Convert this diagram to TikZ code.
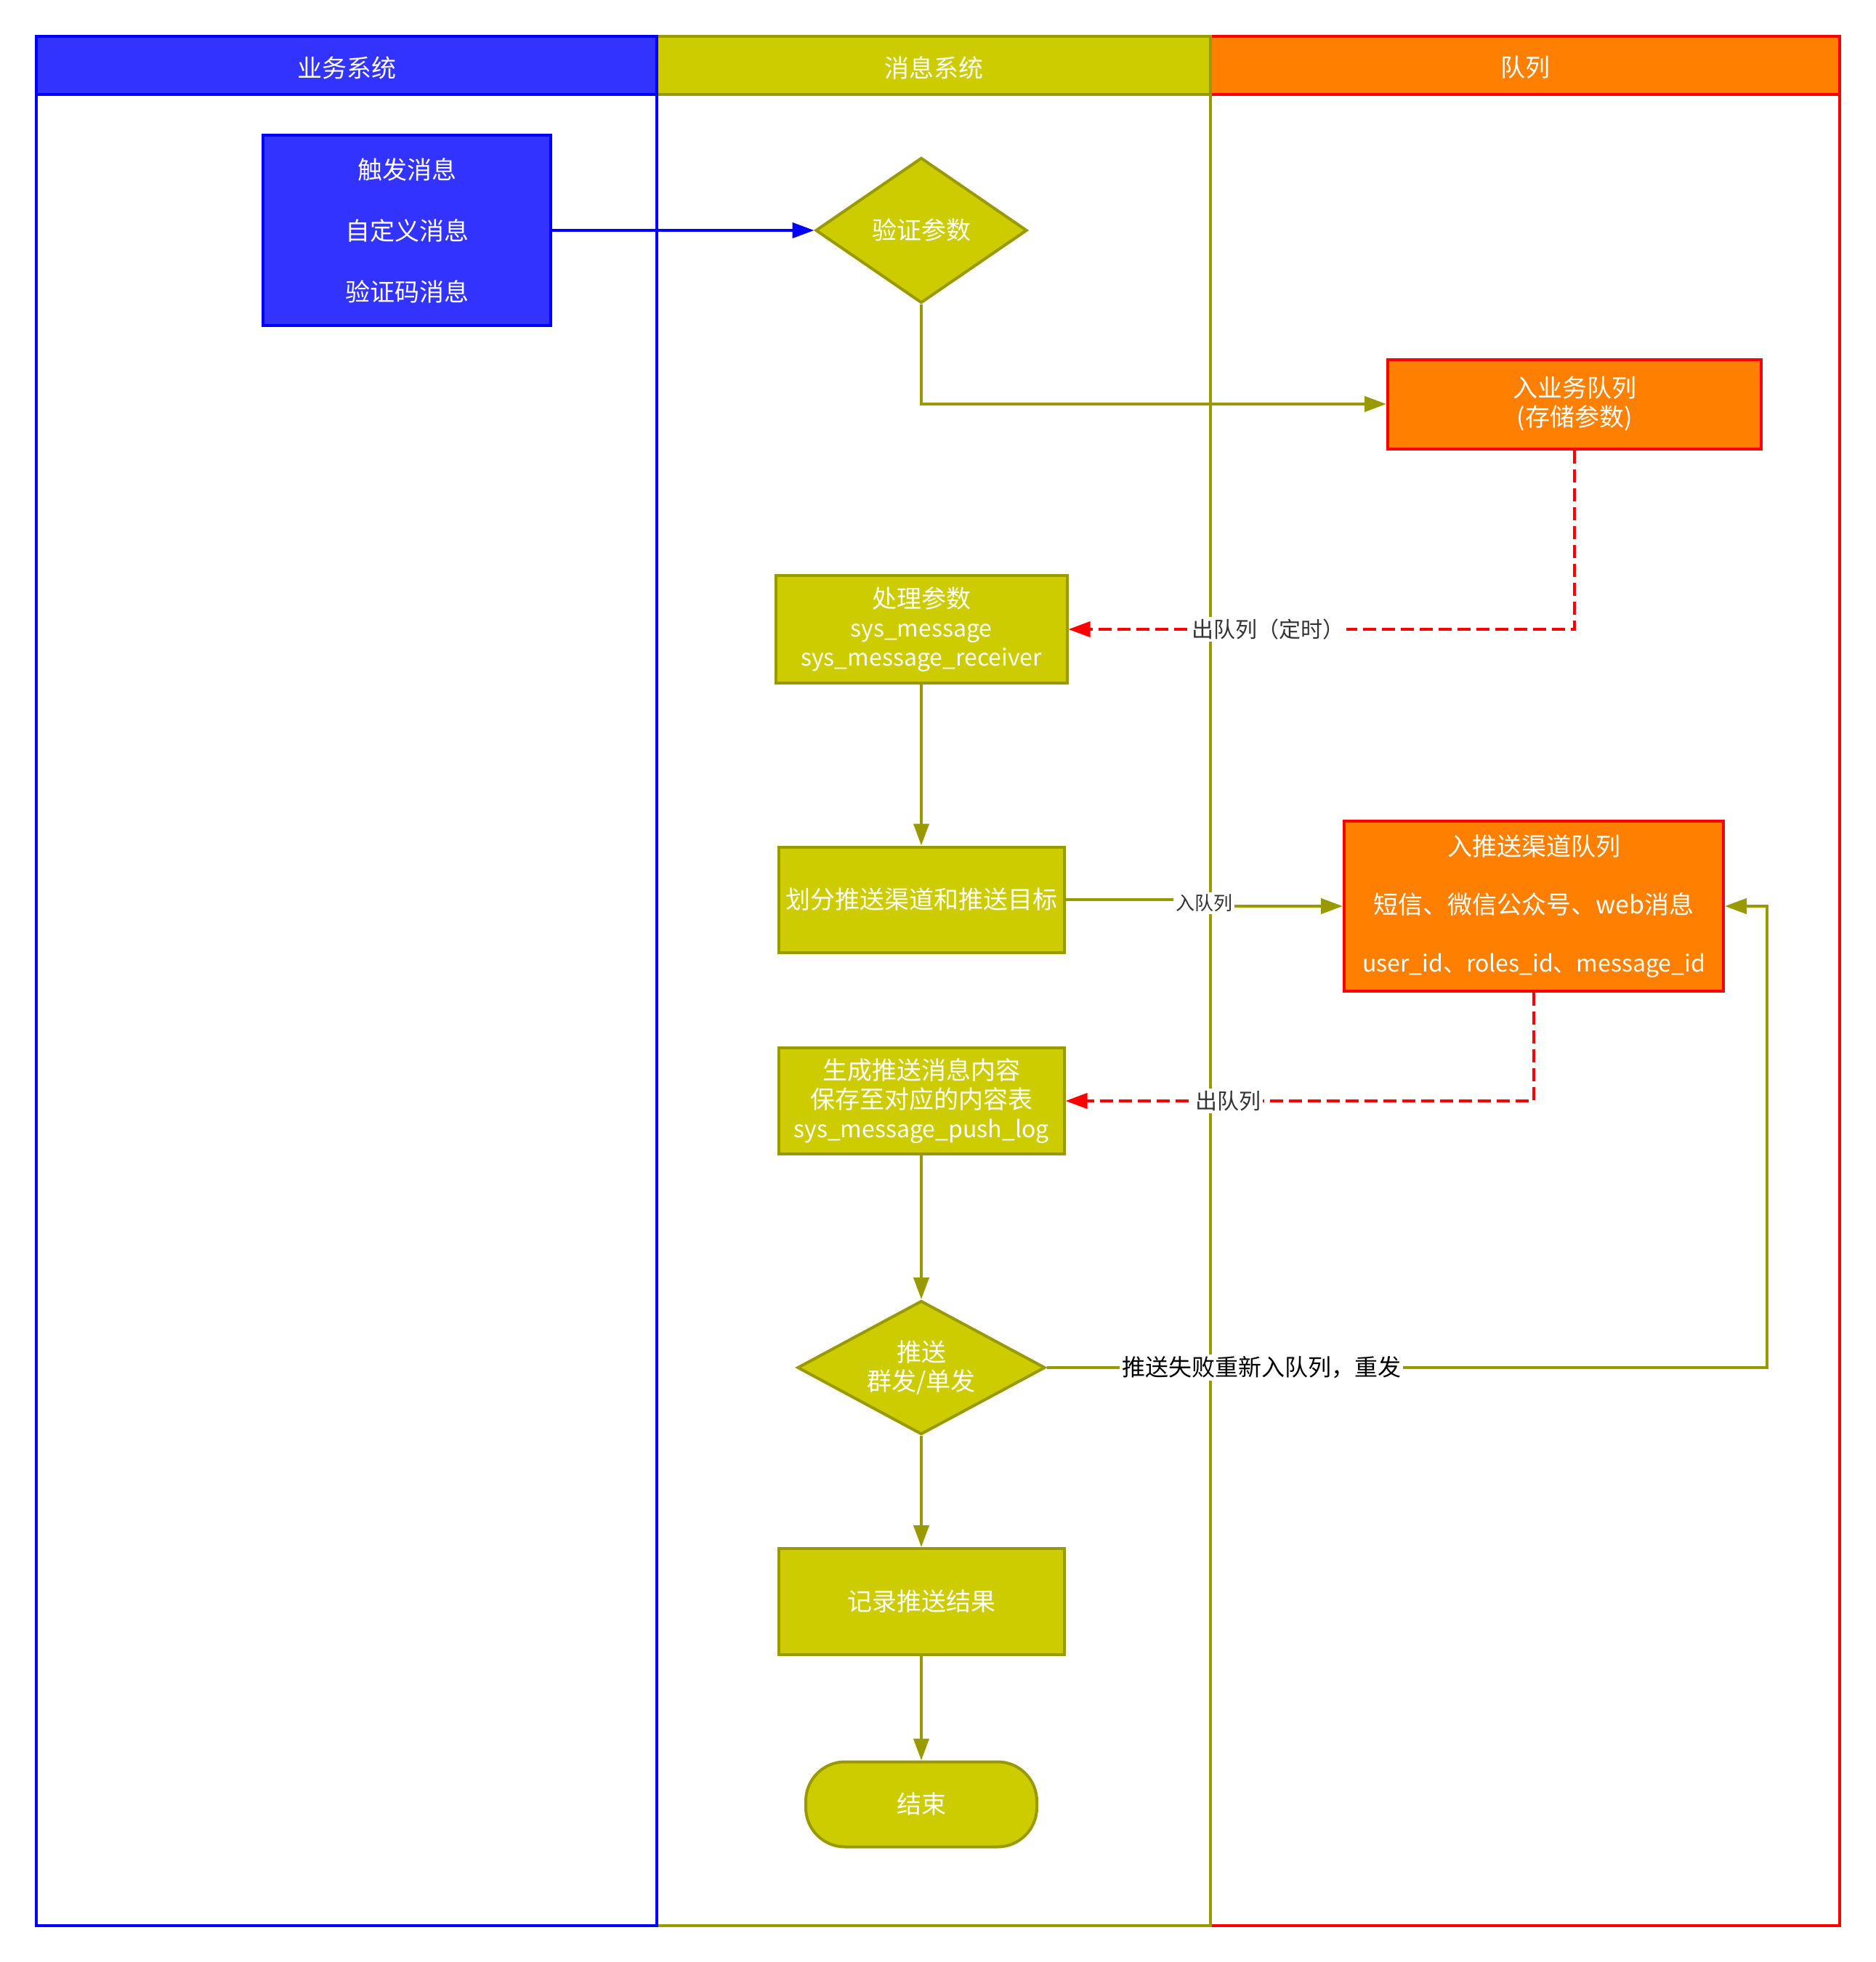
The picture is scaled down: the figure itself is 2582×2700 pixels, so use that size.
\documentclass[tikz,border=0pt]{standalone}
\usepackage{fontspec}
\setmainfont{Noto Sans CJK SC}
\usetikzlibrary{shapes.geometric,arrows.meta}
\definecolor{bluefill}{HTML}{3333FF}
\definecolor{bluedraw}{HTML}{0000FF}
\definecolor{olivefill}{HTML}{CCCC00}
\definecolor{olivedraw}{HTML}{999900}
\definecolor{orangefill}{HTML}{FF8000}
\definecolor{reddraw}{HTML}{FF0000}
\definecolor{lblgray}{HTML}{333333}
\newcommand{\latinsz}{\fontsize{16pt}{20pt}\selectfont}
\begin{document}
\begin{tikzpicture}[x=0.5pt,y=-0.5pt,
  laneline/.style={line width=2pt},
  hdrtext/.style={text=white,font=\fontsize{17pt}{20pt}\selectfont},
  nodebox/.style={draw,line width=2pt,text=white,align=center,inner sep=0pt,
    font=\fontsize{17pt}{20pt}\selectfont},
  bluebox/.style={nodebox,fill=bluefill,draw=bluedraw},
  olivebox/.style={nodebox,fill=olivefill,draw=olivedraw},
  orangebox/.style={nodebox,fill=orangefill,draw=reddraw},
  olivedia/.style={olivebox,shape=diamond},
  tip/.style={-{Triangle[length=15pt,width=10.5pt]}},
  oarrow/.style={tip,draw=olivedraw,fill=none,line width=2pt},
  barrow/.style={tip,draw=bluedraw,line width=2pt},
  rarrow/.style={tip,draw=reddraw,line width=2pt,dash pattern=on 9pt off 4pt},
  lbl/.style={fill=white,inner sep=1.5pt,text=lblgray,font=\fontsize{15pt}{18pt}\selectfont},
]
\useasboundingbox[fill=white] (0,0) rectangle (2582,2700);

% lanes (drawn right to left so borders overlap as in the reference)
\draw[laneline,draw=reddraw] (1666,130) rectangle (2532,2650);
\draw[laneline,draw=reddraw,fill=orangefill] (1666,50) rectangle (2532,130);
\draw[laneline,draw=olivedraw] (904,130) rectangle (1666,2650);
\draw[laneline,draw=olivedraw,fill=olivefill] (904,50) rectangle (1666,130);
\draw[laneline,draw=bluedraw] (50,130) rectangle (904,2650);
\draw[laneline,draw=bluedraw,fill=bluefill] (50,50) rectangle (904,130);

\node[hdrtext] (h1) at (477,93) {业务系统};
\node[hdrtext] (h2) at (1285,93) {消息系统};
\node[hdrtext] (h3) at (2099,93) {队列};

% nodes
\node[bluebox,minimum width=198pt,minimum height=131pt,
  font=\fontsize{17pt}{42pt}\selectfont] (n1) at (560,317) {触发消息\\自定义消息\\验证码消息};
\node[olivedia,aspect=1.45,minimum width=145.5pt,minimum height=100pt] (n2) at (1268,317) {验证参数};
\node[orangebox,minimum width=257pt,minimum height=61.5pt] (n3) at (2167,556) {入业务队列\\(存储参数)};
\node[olivebox,minimum width=200.5pt,minimum height=74pt] (n4) at (1268,866) {处理参数\\{\latinsz sys\_message}\\{\latinsz sys\_message\_receiver}};
\node[olivebox,minimum width=196.5pt,minimum height=72.5pt] (n5) at (1268,1238) {划分推送渠道和推送目标};
\node[orangebox,minimum width=261pt,minimum height=117pt,
  font=\fontsize{17pt}{40pt}\selectfont] (n6) at (2111,1247) {入推送渠道队列\\短信、微信公众号、web消息\\{\latinsz user\_id、roles\_id、message\_id}};
\node[olivebox,minimum width=196.5pt,minimum height=73pt] (n7) at (1268,1515) {生成推送消息内容\\保存至对应的内容表\\{\latinsz sys\_message\_push\_log}};
\node[olivedia,aspect=1.85,minimum width=170.5pt,minimum height=92pt] (n8) at (1268,1882) {推送\\群发/单发};
\node[olivebox,minimum width=196.5pt,minimum height=73pt] (n9) at (1268,2204) {记录推送结果};
\node[olivebox,minimum width=159pt,minimum height=58.5pt,rounded corners=27pt] (n10) at (1268,2483) {结束};

% connectors
\draw[barrow] (n1.east) -- (n2.west);
\draw[oarrow] (n2.south) |- (n3.west);
\draw[rarrow] (n3.south) |- (n4.east);
\node[lbl] (l1) at (1745,866) {出队列（定时）};
\draw[oarrow] (n4.south) -- (n5.north);
\draw[oarrow] (n5.east) -- (1657,1238) |- (n6.west);
\node[lbl,font=\fontsize{13pt}{15pt}\selectfont] (l2) at (1657,1243) {入队列};
\draw[rarrow] (n6.south) |- (n7.east);
\node[lbl] (l3) at (1690,1515) {出队列};
\draw[oarrow] (n7.south) -- (n8.north);
\draw[oarrow] (n8.east) -- (2432,1882) |- (n6.east);
\node[lbl,text=black,font=\fontsize{16pt}{18pt}\selectfont] (l4) at (1736,1882) {推送失败重新入队列，重发};
\draw[oarrow] (n8.south) -- (n9.north);
\draw[oarrow] (n9.south) -- (n10.north);
\end{tikzpicture}
\end{document}
